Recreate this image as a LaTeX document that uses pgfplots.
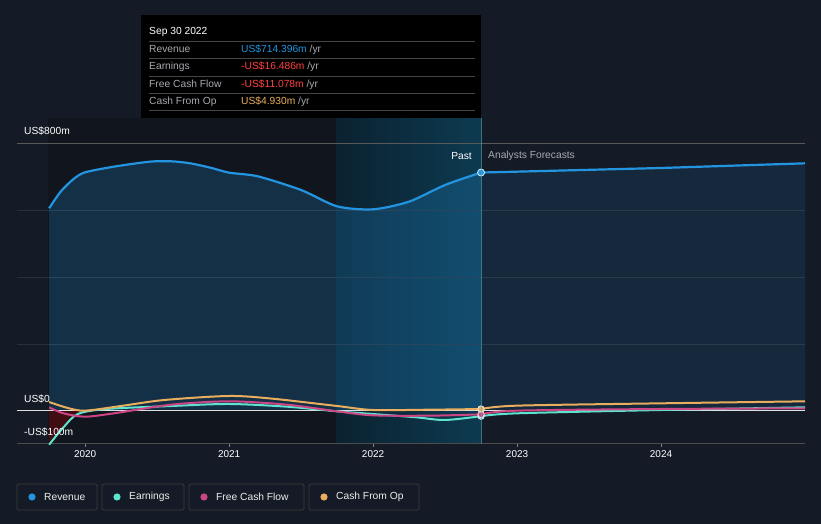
\documentclass[border=0pt]{standalone}
\usepackage{pgfplots}
\pgfplotsset{compat=1.18}
\usepackage{fontspec}
\setmainfont{Liberation Sans}
\definecolor{bg}{HTML}{151B26}
\definecolor{pastbg}{HTML}{11151D}
\definecolor{hlA}{HTML}{0B2230}
\definecolor{hlB}{HTML}{0D3A50}
\definecolor{rev}{HTML}{2394DF}
\definecolor{earn}{HTML}{5EE3CF}
\definecolor{fcf}{HTML}{CC4585}
\definecolor{cfo}{HTML}{E8AE5E}
\definecolor{gridc}{HTML}{2A303B}
\definecolor{labc}{HTML}{A6A9AE}
\begin{document}
\begin{tikzpicture}[x=1bp,y=1bp,font=\fontsize{10.3}{12}\selectfont]
% page background
\fill[bg] (0,0) rectangle (821,524);
% past / highlight regions
\fill[pastbg] (48,80) rectangle (336,406);
\shade[left color=hlA,right color=hlB] (336,80) rectangle (481,406);

\begin{axis}[
    at={(17bp,80bp)}, anchor=south west,
    scale only axis, width=788bp, height=300bp,
    xmin=2019.527, xmax=2025.0,
    ymin=-100, ymax=800,
    axis line style={draw=none},
    clip=false,
    xtick={2020,2021,2022,2023,2024},
    xticklabels={2020,2021,2022,2023,2024},
    x tick label style={text=white, font=\fontsize{10}{12}\selectfont, yshift=-0.5bp},
    /pgf/number format/assume math mode=true,
    ytick=\empty,
    tick align=outside,
    xtick pos=bottom,
    major tick length=3bp,
    x tick style={draw=gridc!60!white, line width=0.6bp},
]
% grid lines
\draw[gridc, line width=0.8bp] (axis cs:2019.527,200) -- (axis cs:2025,200);
\draw[gridc, line width=0.8bp] (axis cs:2019.527,400) -- (axis cs:2025,400);
\draw[gridc, line width=0.8bp] (axis cs:2019.527,600) -- (axis cs:2025,600);
\draw[gray!70!black, line width=1bp] (axis cs:2019.527,800) -- (axis cs:2025,800);
\draw[gray!60!black, line width=1bp] (axis cs:2019.527,-100) -- (axis cs:2025,-100);

% revenue area (past)
\addplot[draw=none, fill=rev, fill opacity=0.22, smooth, tension=0.45] coordinates {
(2019.75,607) (2019.83,657) (2019.92,695) (2020.0,715) (2020.2,732) (2020.45,747)
(2020.6,748) (2020.73,742) (2020.87,729) (2021.0,714) (2021.2,703) (2021.5,662) (2021.75,613)
(2022.0,604) (2022.25,627) (2022.5,677) (2022.75,714.4)} \closedcycle;
% revenue area (forecast)
\addplot[draw=none, fill=rev, fill opacity=0.12] coordinates {
(2022.75,714.4) (2023,717) (2024,728) (2025,742)} \closedcycle;

% negative earnings fill
\addplot[draw=none, fill=red!60!black, fill opacity=0.35, smooth] coordinates {
(2019.75,-102) (2019.85,-50) (2019.95,-10) (2019.97,0)} -- (axis cs:2019.75,0) -- cycle;

% zero line
\draw[white!75!gray, line width=0.8bp] (axis cs:2019.527,0) -- (axis cs:2025,0);

% earnings
\addplot[earn, line width=2bp, smooth, tension=0.5] coordinates {
(2019.75,-102) (2019.85,-50) (2019.95,-10) (2020.15,5) (2020.6,14) (2021.0,20)
(2021.4,12) (2021.75,-2) (2022.0,-10) (2022.3,-20) (2022.5,-28) (2022.75,-16.5)};
\addplot[earn, line width=2bp, smooth] coordinates {
(2022.75,-16.5) (2023,-8) (2024,2) (2025,10)};
% free cash flow
\addplot[fcf, line width=2bp, smooth, tension=0.5] coordinates {
(2019.75,10) (2019.85,-8) (2020.0,-18) (2020.2,-8) (2020.6,18) (2021.0,28)
(2021.4,18) (2021.75,-2) (2022.0,-14) (2022.4,-15) (2022.75,-11.1)};
\addplot[fcf, line width=2bp, smooth] coordinates {
(2022.75,-11.1) (2023,0) (2024,5) (2025,7)};
% cash from op
\addplot[cfo, line width=2bp, smooth, tension=0.5] coordinates {
(2019.75,26) (2019.88,8) (2020.0,0) (2020.25,14) (2020.55,32) (2021.0,44)
(2021.3,36) (2021.75,14) (2022.0,2) (2022.4,3) (2022.75,4.9)};
\addplot[cfo, line width=2bp, smooth] coordinates {
(2022.75,4.9) (2023,15) (2024,22) (2025,28)};
% revenue line
\addplot[rev, line width=2.2bp, smooth, tension=0.45] coordinates {
(2019.75,607) (2019.83,657) (2019.92,695) (2020.0,715) (2020.2,732) (2020.45,747)
(2020.6,748) (2020.73,742) (2020.87,729) (2021.0,714) (2021.2,703) (2021.5,662) (2021.75,613)
(2022.0,604) (2022.25,627) (2022.5,677) (2022.75,714.4)};
\addplot[rev, line width=2.2bp] coordinates {
(2022.75,714.4) (2023,717) (2024,728) (2025,742)};

% markers at the last reported date
\addplot[only marks, mark=*, mark size=3.2bp, mark options={fill=earn, draw=white!80!earn, line width=0.8bp}] coordinates {(2022.75,-16.5)};
\addplot[only marks, mark=*, mark size=3.2bp, mark options={fill=fcf, draw=white!80!fcf, line width=0.8bp}] coordinates {(2022.75,-11.1)};
\addplot[only marks, mark=*, mark size=3.2bp, mark options={fill=cfo, draw=white!80!cfo, line width=0.8bp}] coordinates {(2022.75,4.9)};
\addplot[only marks, mark=*, mark size=3.5bp, mark options={fill=rev, draw=white!85!rev, line width=0.8bp}] coordinates {(2022.75,714.4)};
\end{axis}

% cursor line
\draw[hlB!60!cyan!70!white, line width=0.6bp, opacity=0.6] (481,80) -- (481,406);

% y labels
\node[anchor=west, text=white, inner sep=0] at (24,393) {US\$800m};
\node[anchor=west, text=white, inner sep=0] at (24,125) {US\$0};
\node[anchor=west, text=white, inner sep=0] at (24,92) {-US\$100m};

% past / forecast
\node[anchor=east, text=white, inner sep=0] at (472,368) {Past};
\node[anchor=west, text=labc, inner sep=0] at (488,368) {Analysts Forecasts};

% tooltip
\fill[black] (141,406) rectangle (481,509);
\node[anchor=base west, text=white, inner sep=0] at (149,489) {Sep 30 2022};
\foreach \yy in {483,466,448,431,414} {\draw[gray!55!black, line width=0.6bp] (149,\yy) -- (475,\yy);}
\node[anchor=base west, text=labc, inner sep=0] at (149,471) {Revenue};
\node[anchor=base west, text=labc, inner sep=0] at (149,454) {Earnings};
\node[anchor=base west, text=labc, inner sep=0] at (149,436) {Free Cash Flow};
\node[anchor=base west, text=labc, inner sep=0] at (149,419) {Cash From Op};
\node[anchor=base west, inner sep=0] at (241,471) {\textcolor{rev}{US\$714.396m} \textcolor{labc}{/yr}};
\node[anchor=base west, inner sep=0] at (241,454) {\textcolor{red!75!white}{-US\$16.486m} \textcolor{labc}{/yr}};
\node[anchor=base west, inner sep=0] at (241,436) {\textcolor{red!75!white}{-US\$11.078m} \textcolor{labc}{/yr}};
\node[anchor=base west, inner sep=0] at (241,419) {\textcolor{cfo}{US\$4.930m} \textcolor{labc}{/yr}};

% legend
\foreach \xa/\xb/\col/\txt in {17/97/rev/Revenue, 102/184/earn/Earnings, 189/304/fcf/Free Cash Flow, 309/419/cfo/Cash From Op} {
  \draw[gray!45!black, line width=0.8bp, rounded corners=1.5bp] (\xa,14) rectangle (\xb,40);
  \fill[\col] (\xa+15,27) circle (3.6bp);
  \node[anchor=west, text=white!85!gray, inner sep=0, font=\fontsize{10.3}{12}\selectfont] at (\xa+27,27) {\txt};
}
\end{tikzpicture}
\end{document}
